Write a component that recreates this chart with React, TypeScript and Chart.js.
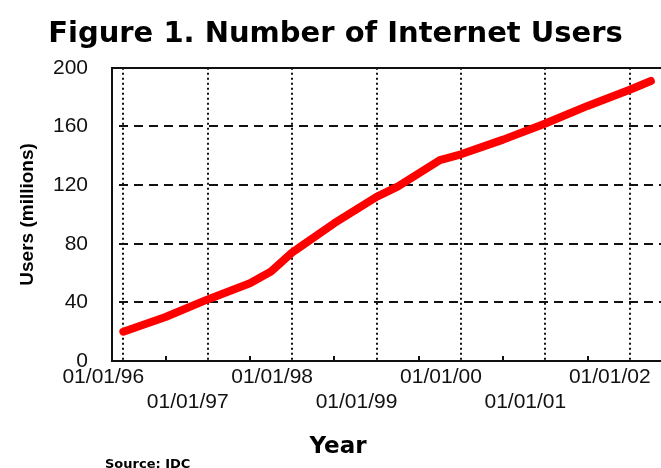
import React, { useEffect, useRef } from 'react';
import { Chart, registerables } from 'chart.js';

Chart.register(...registerables);

const chartTitle = 'Figure 1. Number of Internet Users';
const yTitle = 'Users (millions)';
const xTitle = 'Year';
const sourceText = 'Source: IDC';

// data (decimal year, millions of users)
const years = [1996.0, 1996.5, 1997.0, 1997.5, 1997.75, 1998.0, 1998.1, 1998.5, 1999.0, 1999.25, 1999.5, 1999.75, 2000.0, 2000.5, 2001.0, 2001.5, 2002.0, 2002.25];
const users = [20, 30, 42, 53, 61, 74, 78, 94, 112, 119, 128, 137, 141, 151, 162, 174, 185, 191];

// x axis ticks (years + half-year minor ticks)
const tickYears = [1996, 1996.5, 1997, 1997.5, 1998, 1998.5, 1999, 1999.5, 2000, 2000.5, 2001, 2001.5, 2002];
const yearLabels = ['01/01/96', '01/01/97', '01/01/98', '01/01/99', '01/01/00', '01/01/01', '01/01/02'];
const xMin = 1995.866;
const xMax = 2002.37;

const yMin = 0;
const yMax = 200;
const yStep = 40;

const extraTextPlugin = {
  id: 'extraText',
  afterDraw(chart: any) {
    const ctx = chart.ctx;
    ctx.save();
    ctx.fillStyle = '#000';
    ctx.textBaseline = 'alphabetic';
    ctx.font = 'bold 23px "DejaVu Sans"';
    ctx.textAlign = 'center';
    ctx.fillText(xTitle, 338, 453);
    ctx.font = 'bold 13px "DejaVu Sans"';
    ctx.textAlign = 'left';
    ctx.fillText(sourceText, 105, 468);
    ctx.restore();
  },
};

export default function App() {
  const canvasRef = useRef<HTMLCanvasElement | null>(null);

  useEffect(() => {
    const canvas = canvasRef.current;
    if (!canvas) return;
    const chart = new Chart(canvas, {
      type: 'line',
      data: {
        datasets: [
          {
            data: years.map((x, i) => ({ x, y: users[i] })),
            borderColor: '#ff0000',
            backgroundColor: '#ff0000',
            borderWidth: 8,
            pointRadius: 0,
            tension: 0,
            borderCapStyle: 'round',
            borderJoinStyle: 'round',
            fill: false,
          },
        ],
      },
      options: {
        responsive: false,
        animation: false,
        events: [],
        layout: { padding: { left: 10, right: 0, top: 0, bottom: 0 }, autoPadding: false },
        plugins: {
          legend: { display: false },
          tooltip: { enabled: false },
          title: {
            display: true,
            text: chartTitle,
            color: '#000',
            font: { family: '"DejaVu Sans"', weight: 'bold', size: 29, lineHeight: 1.2 },
            padding: { top: 17, bottom: 16 },
          },
        },
        scales: {
          x: {
            type: 'linear',
            min: xMin,
            max: xMax,
            afterBuildTicks: (scale: any) => {
              scale.ticks = tickYears.map((v) => ({ value: v }));
            },
            afterFit: (scale: any) => {
              scale.height = 107;
              scale.paddingLeft = 0;
              scale.paddingRight = 0;
            },
            grid: {
              drawOnChartArea: true,
              drawTicks: true,
              tickLength: -5,
              tickWidth: 2,
              lineWidth: 2,
              color: (ctx: any) => (ctx.tick && Number.isInteger(ctx.tick.value) ? '#111' : 'rgba(0,0,0,0)'),
              tickColor: (ctx: any) => (ctx.tick && !Number.isInteger(ctx.tick.value) ? '#111' : 'rgba(0,0,0,0)'),
            },
            border: {
              display: true,
              color: '#111',
              width: 2,
              dash: (ctx: any) => (ctx.tick ? [2, 3] : []),
            },
            ticks: {
              autoSkip: false,
              maxRotation: 0,
              minRotation: 0,
              padding: 9,
              labelOffset: -20,
              color: '#111',
              font: { family: '"Liberation Sans"', size: 21, lineHeight: '25px' },
              callback: (value: any) => {
                const v = Number(value);
                if (!Number.isInteger(v)) return '';
                const idx = v - 1996;
                const lbl = yearLabels[idx] || '';
                return idx % 2 === 0 ? [lbl, ''] : ['', lbl];
              },
            },
          },
          y: {
            type: 'linear',
            min: yMin,
            max: yMax,
            afterFit: (scale: any) => {
              scale.width = 102;
              scale.paddingTop = 0;
              scale.paddingBottom = 0;
            },
            grid: {
              drawTicks: false,
              lineWidth: 2,
              color: '#111',
            },
            border: {
              display: true,
              color: '#111',
              width: 2,
              dash: (ctx: any) => (ctx.tick && ctx.tick.value !== yMax && ctx.tick.value !== yMin ? [9, 6] : []),
              dashOffset: 9,
            },
            ticks: {
              stepSize: yStep,
              padding: 24,
              color: '#111',
              font: { family: '"Liberation Sans"', size: 21 },
            },
            title: {
              display: true,
              text: yTitle,
              color: '#000',
              font: { family: '"Liberation Sans"', weight: 'bold', size: 19, lineHeight: 1.2 },
              padding: { top: 6, bottom: 0 },
            },
          },
        },
      },
      plugins: [extraTextPlugin],
    } as any);
    return () => chart.destroy();
  }, []);

  return (
    <div style={{ position: 'absolute', left: 0, top: 0, width: 661, height: 468, background: '#fff' }}>
      <canvas ref={canvasRef} width={661} height={468} style={{ display: 'block' }} />
    </div>
  );
}
